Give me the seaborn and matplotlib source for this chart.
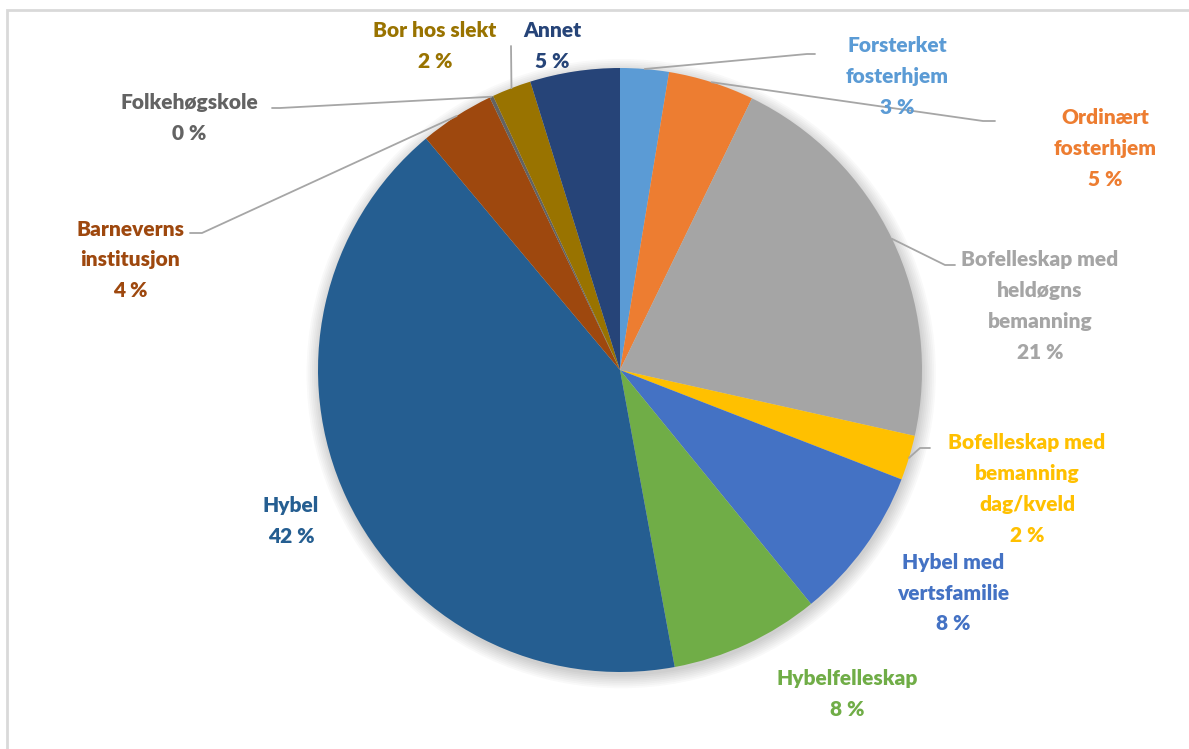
import matplotlib
matplotlib.use("Agg")
import matplotlib.pyplot as plt
from matplotlib.patches import Circle, Rectangle
import seaborn as sns
import numpy as np

# Data (andeler i prosent, lest av figuren)
categories = [
    "Forsterket\nfosterhjem",
    "Ordinært\nfosterhjem",
    "Bofelleskap med\nheldøgns\nbemanning",
    "Bofelleskap med\nbemanning\ndag/kveld",
    "Hybel med\nvertsfamilie",
    "Hybelfelleskap",
    "Hybel",
    "Barneverns\ninstitusjon",
    "Folkehøgskole",
    "Bor hos slekt",
    "Annet",
]
shares = [2.6, 4.6, 21.3, 2.4, 8.2, 8.0, 41.8, 4.0, 0.2, 2.1, 4.8]
colors = ["#5B9BD5", "#ED7D31", "#A5A5A5", "#FFC000", "#4472C4", "#70AD47",
          "#255E91", "#9E480E", "#636363", "#997300", "#264478"]

# label centres (pixels in the 1189x749 picture)
label_pos = [(897, 77), (1105, 148), (1040, 306), (1027, 489), (953, 593),
             (847, 694), (291, 521), (130, 260), (189, 118), (435, 46), (552, 46)]
# leader lines: index -> (elbow, end) in pixels
leaders = {
    0: ((807, 54), (815, 54)),
    1: ((983, 121), (995, 121)),
    2: ((945, 265), (955, 265)),
    3: ((920, 448), (930, 448)),
    7: ((202, 233), (190, 233)),
    8: ((280, 108), (272, 108)),
    9: ((511, 46), (511, 46)),
}

W, H = 1189, 749
CX, CY, R = 620, 370, 302


def px(p):
    return ((p[0] - CX) / R, (CY - p[1]) / R)


sns.set_theme(style="white")
plt.rcParams["font.family"] = ["Lato", "DejaVu Sans"]

fig = plt.figure(figsize=(W / 100, H / 100), dpi=100)
ax = fig.add_axes([0, 0, 1, 1])

# soft shadow under the pie
for k in range(8):
    ax.add_patch(Circle((0.004, -0.012), 1 + 0.006 * k, color="black",
                        alpha=0.025, lw=0, zorder=0))

wedges, _ = ax.pie(shares, colors=colors, startangle=90, counterclock=False,
                   radius=1, center=(0, 0), frame=True,
                   wedgeprops=dict(linewidth=0))
ax.set_xlim(-CX / R, (W - CX) / R)
ax.set_ylim((CY - H) / R, CY / R)
ax.set_aspect("auto")
ax.axis("off")

for i, (w, lab, col, pos) in enumerate(zip(wedges, categories, colors, label_pos)):
    x, y = px(pos)
    ax.text(x, y, f"{lab}\n{shares[i]:.0f} %", color=col, ha="center",
            va="center", fontsize=15, fontweight="heavy", linespacing=1.75)
    if i in leaders:
        mid = np.deg2rad((w.theta1 + w.theta2) / 2)
        ex, ey = np.cos(mid), np.sin(mid)
        (bx, by), (fx, fy) = px(leaders[i][0]), px(leaders[i][1])
        ax.plot([ex, bx, fx], [ey, by, fy], color="#A6A6A6", lw=1.3, zorder=1)

# chart area border
fig.patches.append(Rectangle((7 / W, -0.1), 1.2, (H - 10) / H + 0.1,
                             transform=fig.transFigure, fill=False,
                             edgecolor="#D9D9D9", lw=2))

fig.savefig("out.png", dpi=100)
